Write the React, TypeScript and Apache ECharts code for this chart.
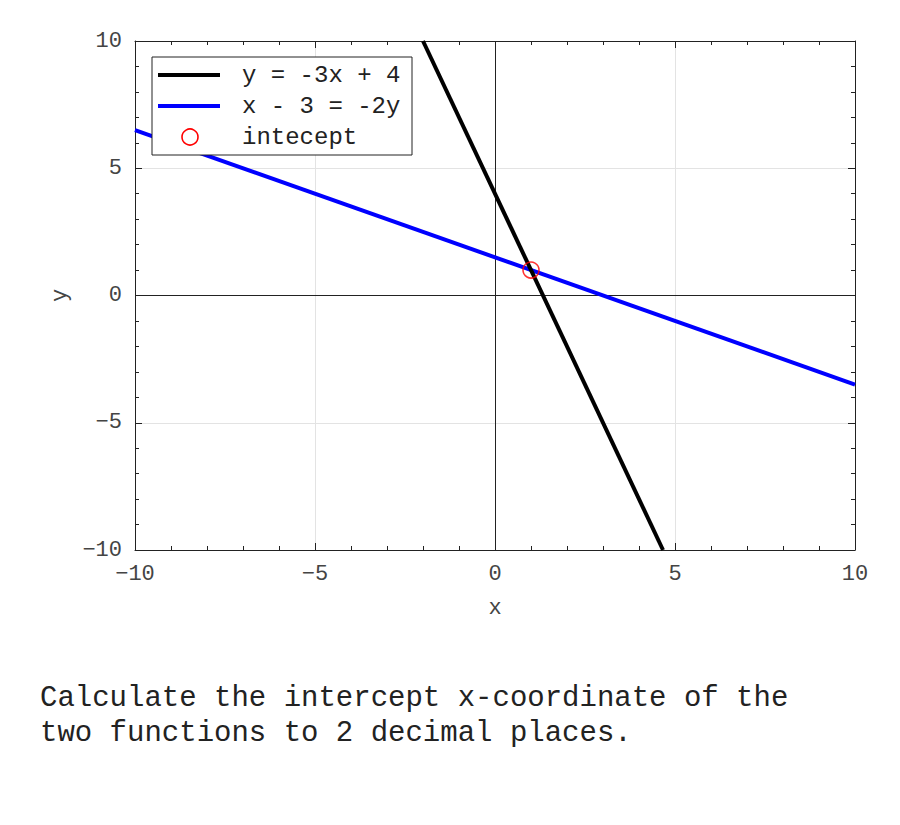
import React, { useEffect, useRef } from "react";
import * as echarts from "echarts";

const blackLineX = [-2, 4.667];
const blackLineY = [10, -10];
const blueLineX = [-10, 10];
const blueLineY = [6.5, -3.5];
const interceptPoint = [1, 1];
const axisMin = -10;
const axisMax = 10;
const axisStep = 5;
const legendLabels = ["y = -3x + 4", "x - 3 = -2y", "intecept"];
const questionLines = [
  "Calculate the intercept x-coordinate of the",
  "two functions to 2 decimal places.",
];

const FONT = "'Liberation Mono', 'DejaVu Sans Mono', monospace";

export default function App() {
  const ref = useRef<HTMLDivElement>(null);
  useEffect(() => {
    if (!ref.current) return;
    const chart = echarts.init(ref.current, undefined, { renderer: "svg" });
    const baseAxis = (extra: any) => ({
      type: "value",
      min: axisMin,
      max: axisMax,
      interval: axisStep,
      splitNumber: 4,
      axisLine: { show: true, onZero: false, lineStyle: { color: "#222", width: 1 } },
      axisTick: { show: true, inside: true, length: 7, lineStyle: { color: "#222" } },
      minorTick: { show: true, splitNumber: 5, length: 4, lineStyle: { color: "#222" } },
      ...extra,
    });
    const labelStyle = { fontSize: 22, color: "#444", fontFamily: FONT };
    chart.setOption({
      animation: false,
      backgroundColor: "#fff",
      grid: { left: 135, right: 45, top: 41, bottom: 275, containLabel: false },
      xAxis: [
        baseAxis({
          position: "bottom",
          name: "x",
          nameLocation: "middle",
          nameGap: 47,
          nameTextStyle: { fontSize: 22, color: "#444", fontFamily: FONT },
          axisLabel: { ...labelStyle, margin: 13, formatter: (v: number) => String(v).replace("-", "\u2212") },
          splitLine: { show: true, lineStyle: { color: "#e3e3e3", width: 1 } },
        }),
        baseAxis({
          position: "top",
          axisLabel: { show: false },
          splitLine: { show: false },
        }),
      ],
      yAxis: [
        baseAxis({
          position: "left",
          name: "y",
          nameLocation: "middle",
          nameGap: 64,
          nameTextStyle: { fontSize: 22, color: "#444", fontFamily: FONT },
          axisLabel: { ...labelStyle, margin: 13, formatter: (v: number) => String(v).replace("-", "\u2212") },
          splitLine: { show: true, lineStyle: { color: "#e3e3e3", width: 1 } },
        }),
        baseAxis({
          position: "right",
          axisLabel: { show: false },
          splitLine: { show: false },
        }),
      ],
      series: [
        {
          type: "line",
          name: legendLabels[0],
          data: blackLineX.map((x, i) => [x, blackLineY[i]]),
          showSymbol: false,
          symbol: "none",
          lineStyle: { color: "#000", width: 4 },
          z: 4,
          markLine: {
            silent: true,
            symbol: "none",
            label: { show: false },
            lineStyle: { color: "#222", width: 1, type: "solid" },
            data: [{ xAxis: 0 }, { yAxis: 0 }],
            z: 1,
          },
        },
        {
          type: "line",
          name: legendLabels[1],
          data: blueLineX.map((x, i) => [x, blueLineY[i]]),
          showSymbol: false,
          symbol: "none",
          lineStyle: { color: "#0000ff", width: 4 },
          z: 3,
        },
        {
          type: "scatter",
          name: legendLabels[2],
          data: [interceptPoint],
          symbol: "circle",
          symbolSize: 16,
          itemStyle: { color: "transparent", borderColor: "#ff0000", borderWidth: 1.6 },
          z: 5,
        },
      ],
      graphic: [
        {
          type: "rect",
          shape: { x: 152, y: 57, width: 260, height: 98 },
          style: { fill: "#fff", stroke: "#222", lineWidth: 1 },
          z: 10,
        },
        {
          type: "line",
          shape: { x1: 158, y1: 75, x2: 220, y2: 75 },
          style: { stroke: "#000", lineWidth: 4 },
          z: 11,
        },
        {
          type: "line",
          shape: { x1: 158, y1: 106, x2: 220, y2: 106 },
          style: { stroke: "#0000ff", lineWidth: 4 },
          z: 11,
        },
        {
          type: "circle",
          shape: { cx: 190, cy: 137, r: 8 },
          style: { fill: "none", stroke: "#ff0000", lineWidth: 1.6 },
          z: 11,
        },
        ...legendLabels.map((t, i) => ({
          type: "text",
          x: 242,
          y: 75 + i * 31,
          style: {
            text: t,
            fontSize: 24,
            fontFamily: FONT,
            fill: "#222",
            verticalAlign: "middle",
          },
          z: 11,
        })),
        ...questionLines.map((t, i) => ({
          type: "text",
          x: 40,
          y: 698 + i * 35,
          style: {
            text: t,
            fontSize: 29,
            fontFamily: FONT,
            fill: "#222",
            verticalAlign: "middle",
          },
          z: 11,
        })),
      ],
    });
    return () => chart.dispose();
  }, []);
  return (
    <div
      ref={ref}
      style={{ width: 900, height: 825, position: "absolute", left: 0, top: 0 }}
    />
  );
}
